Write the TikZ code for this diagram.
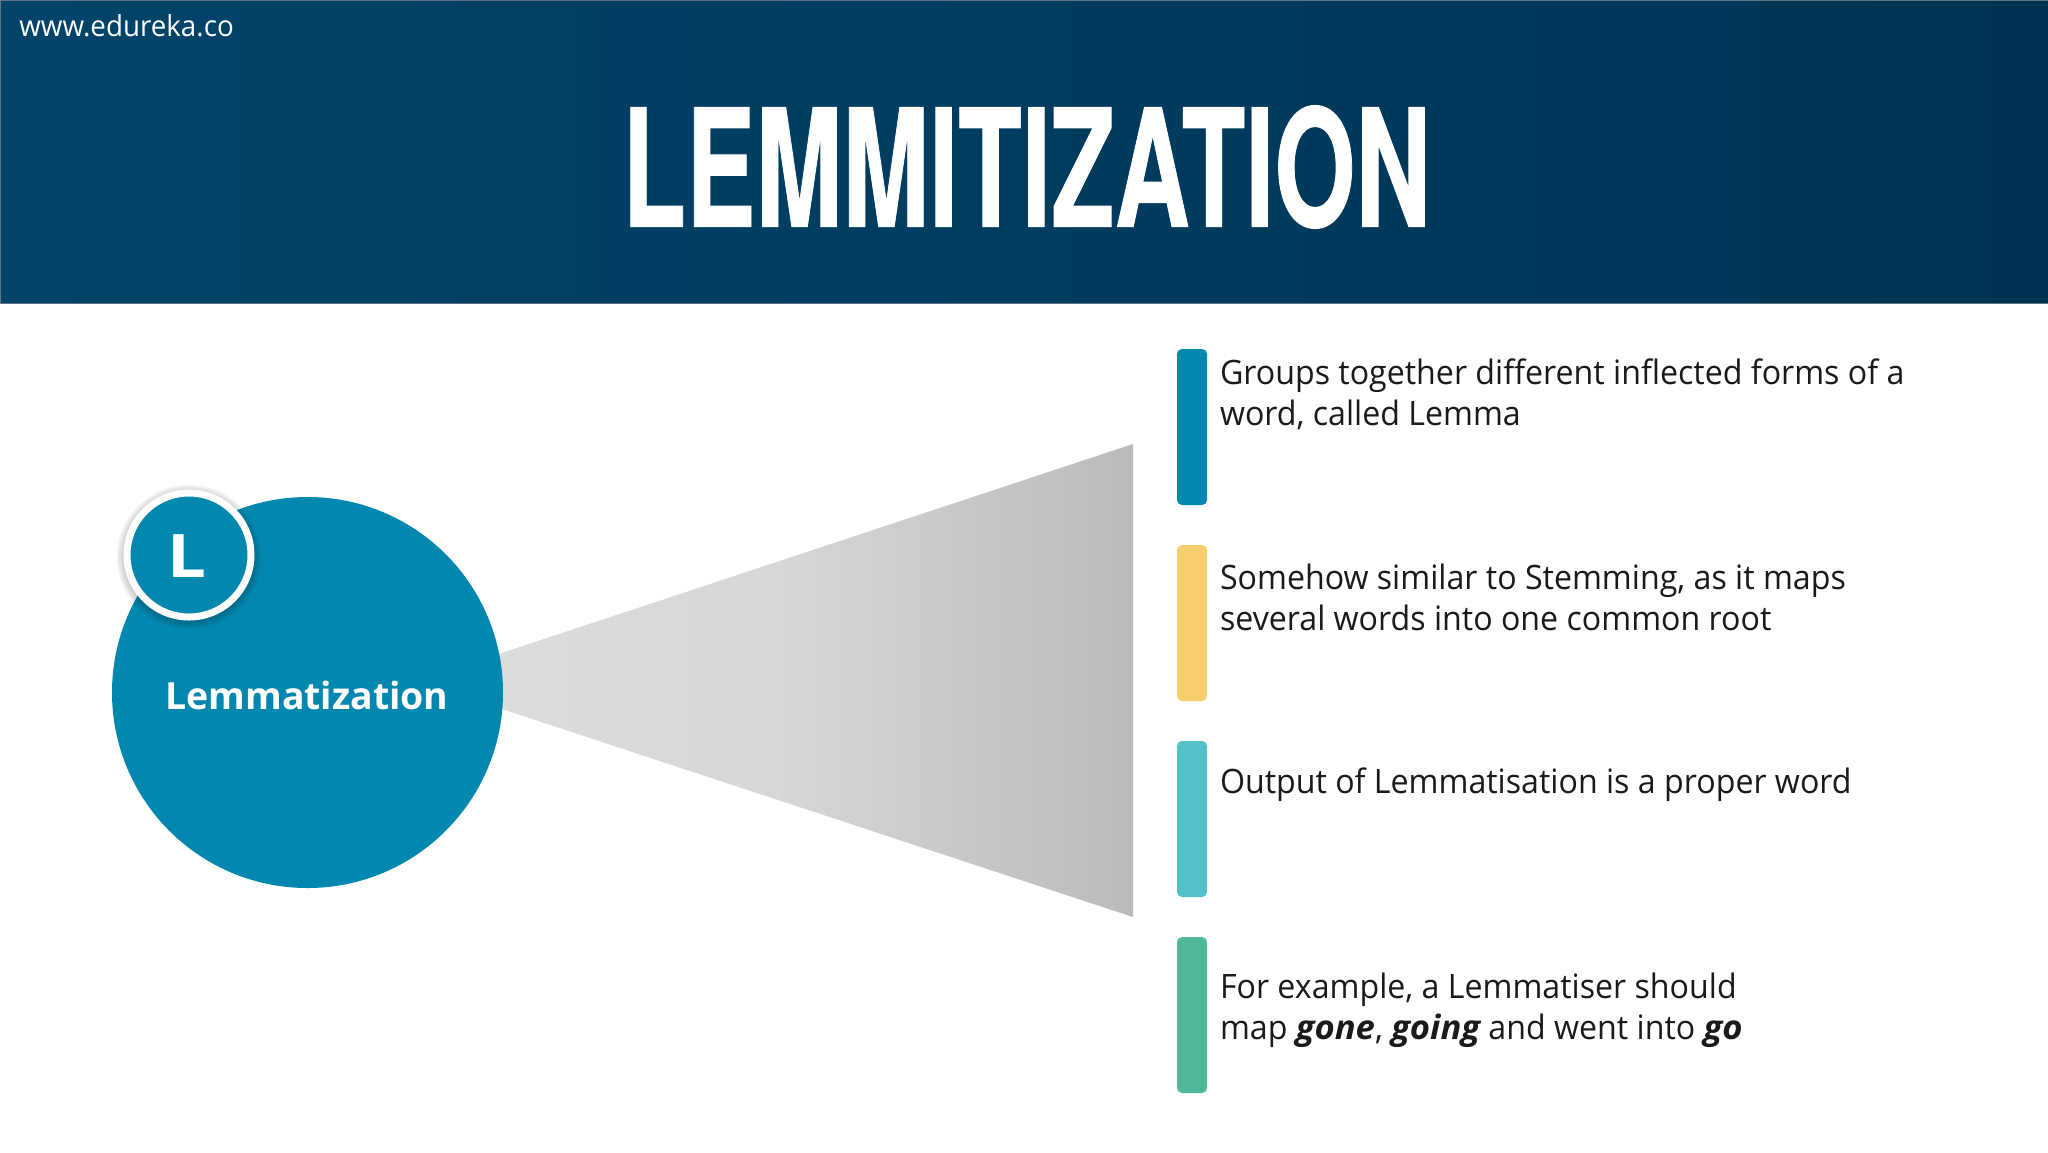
\documentclass[tikz,border=0pt]{standalone}
\usepackage{fontspec}
\usepackage{graphicx}
\setmainfont{Open Sans}
\newfontfamily\bodyf[FakeStretch=0.957]{Open Sans}
\newfontfamily\strongf[FakeStretch=1.03]{Open Sans}
\newfontfamily\badgef[FakeStretch=1.15]{Open Sans}
\newfontfamily\titlef[UprightFont={* Bold},UprightFeatures={FakeBold=0.7}]{TeX Gyre Heros}
\newcommand{\strongtext}[1]{{\strongf\bfseries\itshape #1}}
\definecolor{disc}{HTML}{0288AF}
\definecolor{barA}{HTML}{0288AF}
\definecolor{barB}{HTML}{F7CE6B}
\definecolor{barC}{HTML}{52C1C9}
\definecolor{barD}{HTML}{4FB89B}
\definecolor{ink}{HTML}{1A1A1A}
\definecolor{beamL}{HTML}{DDDCDF}
\definecolor{beamM}{HTML}{D7D6D9}
\definecolor{beamR}{HTML}{BBBABC}
\definecolor{headline}{HTML}{5F7482}
\pgfdeclarehorizontalshading{headershade}{100bp}{
  rgb(0bp)=(0,0.267,0.416);
  rgb(25bp)=(0,0.267,0.416);
  rgb(50bp)=(0,0.235,0.372);
  rgb(75bp)=(0,0.2,0.325);
  rgb(100bp)=(0,0.113,0.204)}
\tikzset{
  x=0.5pt,y=-0.5pt,
  stripe/.style={fill=#1,draw=none,rounded corners=2.5pt},
  bodytext/.style={anchor=north west,inner sep=0pt,outer sep=0pt,align=left,text=ink,
    font=\bodyf\fontsize{16.8}{20.6}\selectfont},
}
\begin{document}
\begin{tikzpicture}
\useasboundingbox (0,0) rectangle (2048,1152);
\fill[white] (0,0) rectangle (2048,1152);
% header
\path[shading=headershade] (0,0) rectangle (2048,303);
\draw[color=headline,line width=0.5pt] (0,303.5) -- (0,0.5) -- (2048,0.5);
\draw[color=headline,line width=0.7pt] (0,303.5) -- (2048,303.5);
\node[anchor=base west,inner sep=0pt,text=white,font=\fontsize{14.5}{17}\selectfont] (site) at (19,36) {\bodyf www.edureka.co};
\node[anchor=center,inner sep=0pt] (title) at (1026.5,167) {\resizebox{404pt}{60.5pt}{\color{white}\titlef LEMMITIZATION}};
% beam
\path[left color=beamL,right color=beamR,middle color=beamM] (417,681) -- (1133,444) -- (1133,917) -- cycle;
% main disc
\node[circle,fill=disc,minimum size=195.5pt,inner sep=0pt] (main) at (307.5,692.5) {};
\node[text=white,inner sep=0pt,font=\fontsize{18.7}{22}\bfseries\selectfont] (mainlabel) at (307,695) {Lemmatization};
% badge shadow
\foreach \r in {72,70,68,66}{ \fill[black,opacity=0.05] (189,557) circle[radius=\r*0.5pt]; }
\node[circle,fill=disc,draw=white,line width=3.5pt,minimum size=62pt,inner sep=0pt] (badge) at (189,555) {};
\node[text=white,inner sep=0pt,font=\badgef\fontsize{30}{32}\bfseries\selectfont] (badgeletter) at (187,556) {L};
% bars
\fill[stripe=barA] (1177,349) rectangle (1207,505);
\fill[stripe=barB] (1177,545) rectangle (1207,701);
\fill[stripe=barC] (1177,741) rectangle (1207,897);
\fill[stripe=barD] (1177,937) rectangle (1207,1093);
% texts
\node[bodytext] (t1) at (1220,359) {Groups together different inflected forms of a\\word, called Lemma};
\node[bodytext] (t2) at (1220,564) {Somehow similar to Stemming, as it maps\\several words into one common root};
\node[bodytext] (t3) at (1220,768) {Output of Lemmatisation is a proper word};
\node[bodytext] (t4) at (1220,973) {For example, a Lemmatiser should\\map \strongtext{gone}, \strongtext{going} and went into \strongtext{go}};
\end{tikzpicture}
\end{document}
